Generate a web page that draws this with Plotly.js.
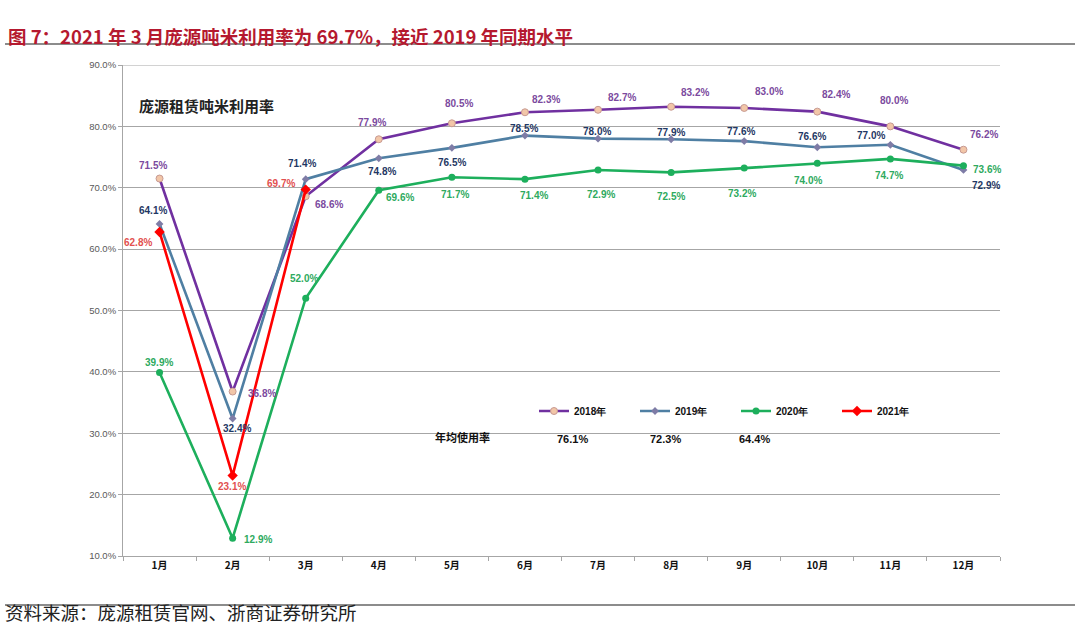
<!DOCTYPE html>
<html><head><meta charset="utf-8">
<script src="https://cdn.plot.ly/plotly-3.0.1.min.js"></script>
<style>html,body{margin:0;padding:0;background:#fff;}#chart{width:1080px;height:642px;}</style>
</head><body><div id="chart"></div>
<script>
const months = ['1月','2月','3月','4月','5月','6月','7月','8月','9月','10月','11月','12月'];
const seriesNames = ['2018年','2019年','2020年','2021年'];
const v2018 = [71.5, 36.8, 68.6, 77.9, 80.5, 82.3, 82.7, 83.2, 83.0, 82.4, 80.0, 76.2];
const v2019 = [64.1, 32.4, 71.4, 74.8, 76.5, 78.5, 78.0, 77.9, 77.6, 76.6, 77.0, 72.9];
const v2020 = [39.9, 12.9, 52.0, 69.6, 71.7, 71.4, 72.9, 72.5, 73.2, 74.0, 74.7, 73.6];
const v2021 = [62.8, 23.1, 69.7];
const avgLabel = '年均使用率';
const avgValues = [76.1, 72.3, 64.4];
const yTicks = [10,20,30,40,50,60,70,80,90];

// styles (not data)
const lineColors = ['#7030A0', '#4F7FA3', '#1DAF5C', '#FF0000'];
const labelColors = ['#7B4A9E', '#1F3864', '#2EAA5E', '#E2504F'];
const markerStyles = [
  {symbol:'circle', size:7, color:'#F2C6A8', line:{color:'#C79A92', width:1}},
  {symbol:'diamond', size:6, color:'#7E7CA6', line:{width:0}},
  {symbol:'circle', size:7, color:'#1DAF5C', line:{width:0}},
  {symbol:'diamond', size:8, color:'#FF0000', line:{width:0}}
];
// label offsets in px (dx right, dy down)
const labelOffsets = [
  [[-7,-13],[29,2],[23,8],[-7,-17],[7,-20],[21,-13],[24,-12],[24,-14],[25,-16],[19,-17],[4,-26],[21,-15]],
  [[-7,-13],[4,10],[-4,-16],[3,13],[0,15],[-1,-7],[-1,-7],[0,-7],[-3,-10],[-5,-11],[-19,-9],[23,16]],
  [[-1,-10],[25,1],[-2,-20],[21,7],[3,17],[9,16],[3,25],[0,24],[-2,25],[-9,17],[-1,17],[24,4]],
  [[-22,11],[-1,11],[-25,-6]]
];

const W = 877, H = 491, L = 123, T = 65;
const px = x => (x - L) / W;
const py = y => (T + H - y) / H;

const allSeries = [v2018, v2019, v2020, v2021];
const traces = allSeries.map((vals, i) => ({
  type:'scatter', mode:'lines+markers', name: seriesNames[i],
  x: months.slice(0, vals.length), y: vals,
  line:{color: lineColors[i], width: 2.6},
  marker: markerStyles[i],
  cliponaxis:false
}));

const annotations = [];
allSeries.forEach((vals, i) => {
  vals.forEach((v, j) => {
    annotations.push({
      x: months[j], y: v, xref:'x', yref:'y',
      text: v.toFixed(1) + '%', showarrow:false,
      xshift: labelOffsets[i][j][0], yshift: -labelOffsets[i][j][1],
      font:{family:'Liberation Sans, Arial, sans-serif', size:10, color: labelColors[i], weight:700}
    });
  });
});
// avg row
annotations.push({xref:'paper', yref:'paper', x:px(462), y:py(447), text: avgLabel, showarrow:false,
  font:{family:'Noto Sans CJK SC', size:11, color:'#111', weight:700}});
const avgX = [572, 665, 772];
avgValues.forEach((v, k) => {
  annotations.push({xref:'paper', yref:'paper', x:px(avgX[k]), y:py(447), text: v.toFixed(1)+'%', showarrow:false,
    font:{family:'Liberation Sans, Arial, sans-serif', size:11, color:'#111', weight:700}});
});
// inner chart title
annotations.push({xref:'paper', yref:'paper', x:px(137), xanchor:'left', y:py(93), text:'庞源租赁吨米利用率', showarrow:false,
  font:{family:'Noto Sans CJK SC', size:15, color:'#222', weight:700}});
// page title
annotations.push({xref:'paper', yref:'paper', x:px(6), xanchor:'left', y:py(21), text:'图 7：2021 年 3 月庞源吨米利用率为 69.7%，接近 2019 年同期水平', showarrow:false,
  font:{family:'Noto Sans CJK SC', size:18.5, color:'#B5192F', weight:700}});
// source
annotations.push({xref:'paper', yref:'paper', x:px(3), xanchor:'left', y:py(627), text:'资料来源：庞源租赁官网、浙商证券研究所', showarrow:false,
  font:{family:'Noto Sans CJK SC', size:18.5, color:'#222'}});

const layout = {
  width:1080, height:642,
  margin:{l:L, r:1080-L-W, t:T, b:642-T-H, autoexpand:false},
  paper_bgcolor:'#fff', plot_bgcolor:'#fff',
  showlegend:true,
  legend:{orientation:'h', x:px(534), y:py(411), xanchor:'left', yanchor:'middle',
    entrywidth:56, entrywidthmode:'pixels', itemwidth:30, tracegroupgap:0,
    font:{family:'Liberation Sans, Arial, sans-serif', size:10, color:'#111', weight:700}, bgcolor:'rgba(0,0,0,0)'},
  xaxis:{type:'category', range:[-0.5, 11.5], showgrid:false, showline:true, linecolor:'#A6A6A6', linewidth:1,
    ticks:'outside', ticklen:4, tickcolor:'#A6A6A6', tickson:'boundaries',
    tickfont:{family:'Noto Sans CJK SC', size:10, color:'#111', weight:700}, fixedrange:true},
  yaxis:{range:[10, 90], tickvals:yTicks, ticktext: yTicks.map(t => t.toFixed(1)+'%'),
    showgrid:true, gridcolor:'#A6A6A6', gridwidth:1, showline:true, linecolor:'#A6A6A6', linewidth:1,
    ticks:'outside', ticklen:4, tickcolor:'#A6A6A6', zeroline:false,
    tickfont:{family:'Liberation Sans, Arial, sans-serif', size:9.5, color:'#595959'}, fixedrange:true},
  annotations: annotations,
  shapes:[
    {type:'line', xref:'paper', yref:'paper', x0:px(5), x1:px(1075), y0:py(44), y1:py(44), line:{color:'#8C8C8C', width:2}},
    {type:'line', xref:'paper', yref:'paper', x0:px(5), x1:px(1075), y0:py(605), y1:py(605), line:{color:'#8C8C8C', width:2}},
    {type:'line', xref:'paper', yref:'y', x0:0, x1:1, y0:90, y1:90, line:{color:'#A6A6A6', width:1}}
  ]
};
Plotly.newPlot('chart', traces, layout, {displayModeBar:false, staticPlot:true});
</script></body></html>
